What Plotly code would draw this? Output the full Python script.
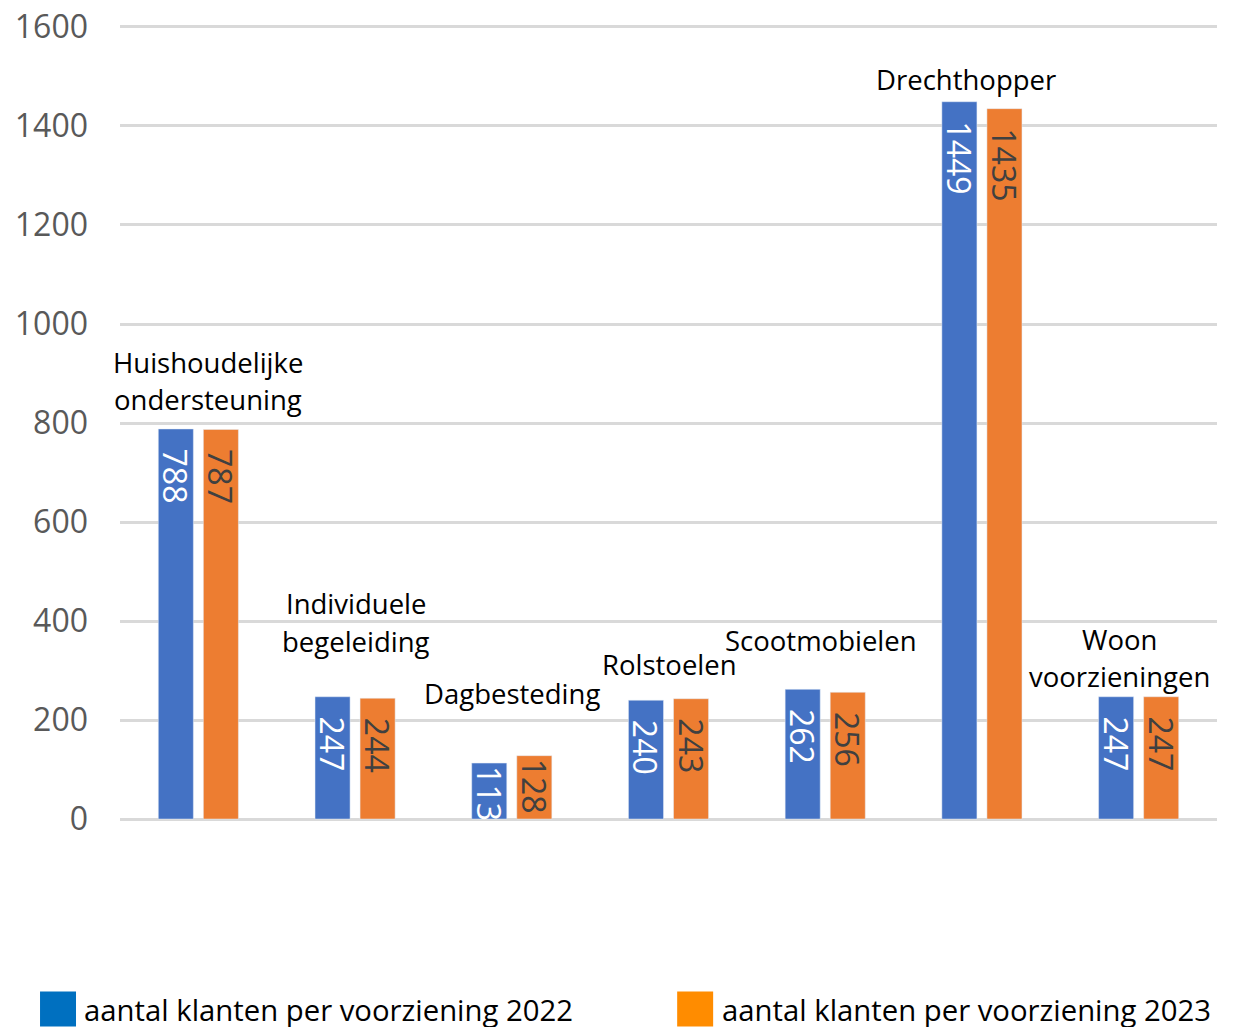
import plotly.graph_objects as go

categories = ["Huishoudelijke ondersteuning", "Individuele begeleiding", "Dagbesteding",
              "Rolstoelen", "Scootmobielen", "Drechthopper", "Woon voorzieningen"]
cat_labels = ["Huishoudelijke<br>ondersteuning", "Individuele<br>begeleiding", "Dagbesteding",
              "Rolstoelen", "Scootmobielen", "Drechthopper", "Woon<br>voorzieningen"]
values_2022 = [788, 247, 113, 240, 262, 1449, 247]
values_2023 = [787, 244, 128, 243, 256, 1435, 247]
series_names = ["aantal klanten per voorziening 2022", "aantal klanten per voorziening 2023"]
y_ticks = [0, 200, 400, 600, 800, 1000, 1200, 1400, 1600]

# label placement (layout only)
label_y = [885, 397, 253, 313, 360, 1494, 325]
label_xshift = [10, 1, 0, 1, -4, -16, -19]
LINE_GAP = 37.5  # px between lines of a category label

FONT = "Open Sans"
BLUE, ORANGE = "#4472C4", "#ED7D31"
NB = "\u00a0"


def padded(vals):
    # inside-end labels sit a little below the bar top, as in the source
    return [(NB * 2 if v > 200 else "") + str(v) for v in vals]


fig = go.Figure()
fig.add_trace(go.Bar(x=categories, y=values_2022, name=series_names[0], marker_color=BLUE,
                     text=padded(values_2022), textposition="inside", insidetextanchor="end",
                     textangle=90, textfont=dict(family=FONT, size=32, color="white"),
                     showlegend=False))
fig.add_trace(go.Bar(x=categories, y=values_2023, name=series_names[1], marker_color=ORANGE,
                     text=padded(values_2023), textposition="inside", insidetextanchor="end",
                     textangle=90, textfont=dict(family=FONT, size=32, color="#404040"),
                     showlegend=False))

for c, lab, yy, xs in zip(categories, cat_labels, label_y, label_xshift):
    lines = lab.split("<br>")
    n = len(lines)
    for i, ln in enumerate(lines):
        ys = ((n - 1) / 2 - i) * LINE_GAP
        fig.add_annotation(x=c, y=yy, text=ln, showarrow=False, xshift=xs, yshift=ys,
                           font=dict(family=FONT, size=27.5, color="#000000"),
                           xanchor="center", yanchor="middle", align="center")

# custom legend (large colour squares)
legend_items = [(series_names[0], "#0070C0", -0.0729, -0.0401, -0.0346),
                (series_names[1], "#FF8C00", 0.5079, 0.5407, 0.5471)]
for name, col, x0, x1, xt in legend_items:
    fig.add_shape(type="rect", xref="paper", yref="paper", x0=x0, x1=x1,
                  y0=-0.2582, y1=-0.2143, fillcolor=col, line_width=0)
    fig.add_annotation(xref="paper", yref="paper", x=xt, y=-0.2369, text=name,
                       showarrow=False, xanchor="left", yanchor="middle",
                       font=dict(family=FONT, size=29.3, color="#000000"))

fig.update_layout(
    width=1228, height=1019,
    margin=dict(l=112, r=19.3, t=16.7, b=205.7, autoexpand=False),
    plot_bgcolor="white", paper_bgcolor="white",
    barmode="group", bargap=0.425, bargroupgap=0.222,
    uniformtext=dict(minsize=32, mode="show"),
    showlegend=False,
)
fig.update_xaxes(range=[-0.5, len(categories) - 0.5], showticklabels=False, showgrid=False,
                 zeroline=False, showline=False, ticks="", automargin=False)
fig.update_yaxes(range=[-4, 1604], tickvals=y_ticks, showgrid=True, gridcolor="#D9D9D9",
                 gridwidth=2.5, zeroline=False, showline=False, ticks="", automargin=False,
                 ticklabeloverflow="allow",
                 tickfont=dict(family=FONT, size=32, color="#595959"), ticklabelstandoff=31)

fig.write_html("out.html")
